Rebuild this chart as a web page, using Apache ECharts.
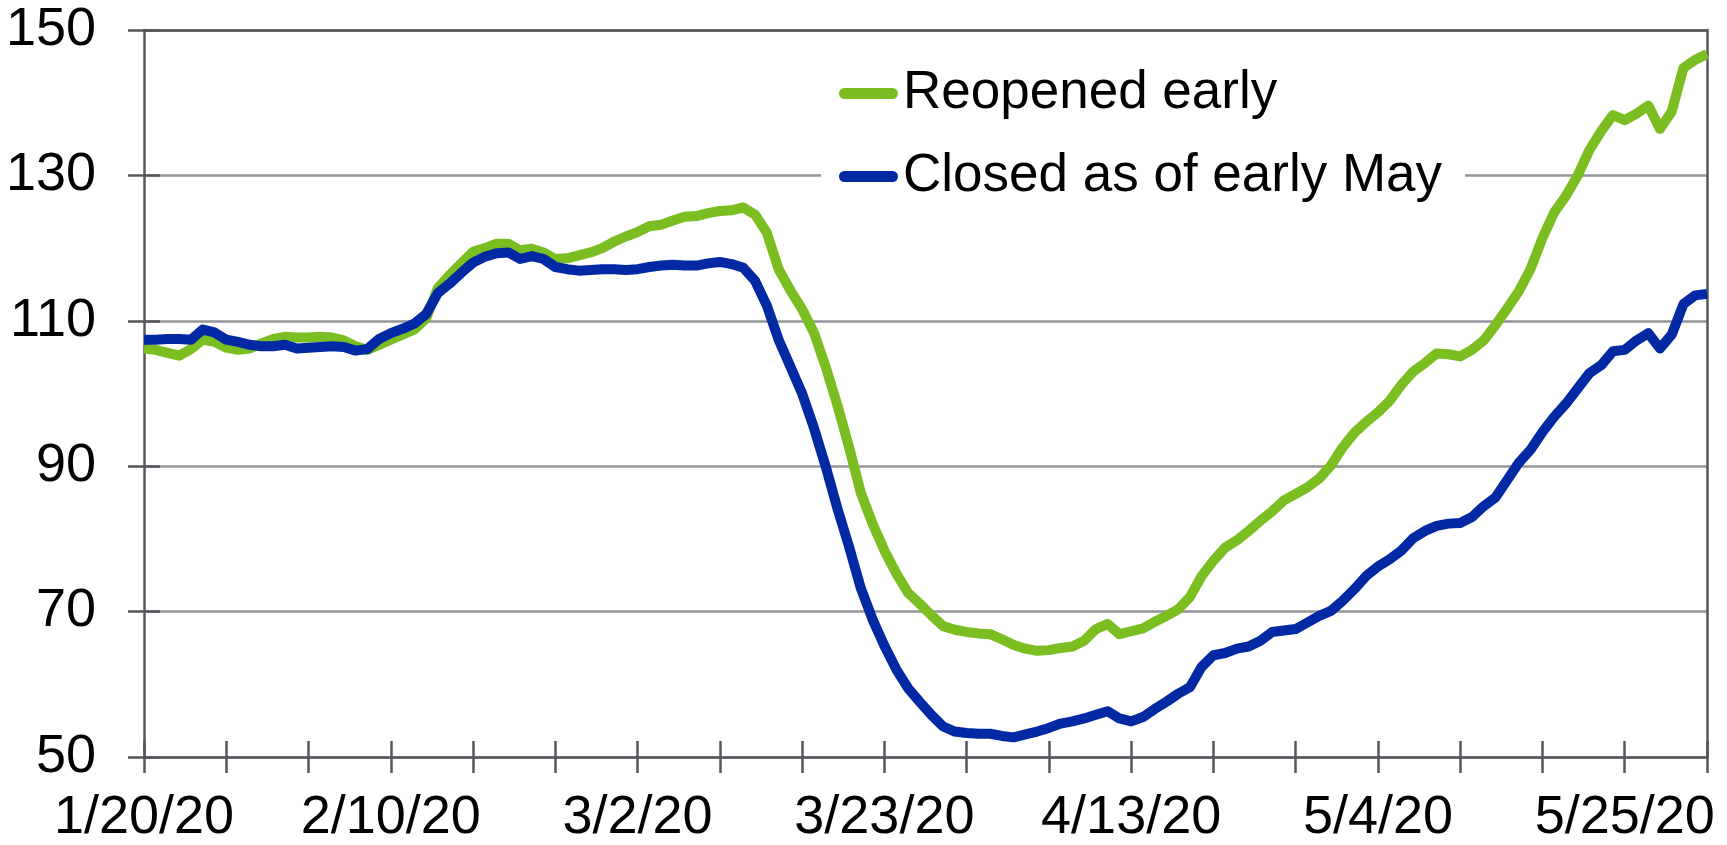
<!DOCTYPE html>
<html>
<head>
<meta charset="utf-8">
<script src="https://cdn.jsdelivr.net/npm/echarts@6/dist/echarts.min.js"></script>
<style>
  html, body { margin: 0; padding: 0; background: #fff; }
  #LineChart { width: 1727px; height: 845px; }
</style>
</head>
<body>
<div id="LineChart"></div>
<script>
// daily values, 1/20/20 .. 6/1/20
const reopenedEarly = [
  106.2, 106.0, 105.6, 105.2, 106.1, 107.4, 107.1, 106.3, 106.0, 106.2,
  106.9, 107.5, 107.8, 107.7, 107.7, 107.8, 107.7, 107.3, 106.5, 106.0,
  106.7, 107.4, 108.1, 108.8, 110.3, 114.5, 116.3, 117.9, 119.5, 120.0,
  120.6, 120.6, 119.7, 119.9, 119.4, 118.5, 118.6, 119.0, 119.4, 120.0,
  120.9, 121.6, 122.2, 123.0, 123.2, 123.8, 124.3, 124.4, 124.8, 125.1,
  125.2, 125.6, 124.6, 122.1, 117.1, 114.2, 111.6, 108.4, 103.7, 98.4,
  92.6, 86.3, 82.1, 78.4, 75.3, 72.6, 71.1, 69.5, 68.0, 67.5,
  67.2, 67.0, 66.9, 66.2, 65.4, 64.9, 64.6, 64.7, 65.0, 65.2,
  66.0, 67.6, 68.3, 66.9, 67.3, 67.7, 68.6, 69.4, 70.3, 72.0,
  74.9, 77.0, 78.8, 79.8, 81.1, 82.5, 83.8, 85.3, 86.2, 87.1,
  88.3, 90.1, 92.6, 94.6, 96.1, 97.4, 99.0, 101.2, 103.0, 104.2,
  105.5, 105.4, 105.1, 106.0, 107.3, 109.4, 111.7, 114.1, 117.2, 121.4,
  124.9, 127.2, 130.0, 133.5, 136.1, 138.3, 137.6, 138.5, 139.6, 136.4,
  138.8, 144.8, 145.9, 146.7
];
const closedEarlyMay = [
  107.4, 107.4, 107.5, 107.5, 107.4, 108.8, 108.4, 107.4, 107.1, 106.7,
  106.5, 106.5, 106.7, 106.2, 106.3, 106.4, 106.5, 106.4, 105.9, 106.1,
  107.5, 108.3, 108.9, 109.6, 110.9, 113.8, 115.1, 116.6, 118.0, 118.8,
  119.3, 119.4, 118.5, 118.9, 118.5, 117.4, 117.1, 116.9, 117.0, 117.1,
  117.1, 117.0, 117.1, 117.4, 117.6, 117.7, 117.6, 117.6, 117.9, 118.1,
  117.8, 117.3, 115.5, 112.1, 107.4, 103.7, 100.0, 95.3, 90.0, 84.2,
  78.9, 73.2, 68.9, 65.3, 62.1, 59.5, 57.6, 55.8, 54.2, 53.5,
  53.3, 53.2, 53.2, 52.9, 52.7, 53.1, 53.5, 54.0, 54.6, 54.9,
  55.3, 55.8, 56.3, 55.3, 54.9, 55.5, 56.6, 57.6, 58.7, 59.6,
  62.4, 64.0, 64.3, 64.9, 65.2, 66.0, 67.2, 67.4, 67.6, 68.5,
  69.4, 70.1, 71.5, 73.1, 74.9, 76.2, 77.2, 78.4, 80.1, 81.1,
  81.8, 82.1, 82.2, 83.0, 84.5, 85.7, 88.1, 90.5, 92.3, 94.7,
  96.8, 98.6, 100.7, 102.8, 103.9, 105.8, 106.0, 107.3, 108.3, 106.2,
  108.1, 112.3, 113.5, 113.7
];
const seriesNames = ["Reopened early", "Closed as of early May"];
const yTicks = [50, 70, 90, 110, 130, 150];

// date labels M/D/YY, one per day
const dates = [];
for (let i = 0; i < reopenedEarly.length; i++) {
  const d = new Date(Date.UTC(2020, 0, 20 + i));
  dates.push((d.getUTCMonth() + 1) + "/" + d.getUTCDate() + "/20");
}

const axisDark = "#54585c";
const gridGray = "#929599";
const font = "Liberation Sans, Arial, sans-serif";

const chart = echarts.init(document.getElementById("LineChart"));
const option = {
  animation: false,
  color: ["#7abe22", "#0029a3"],
  grid: { left: 144, right: 20, top: 30, bottom: 86, containLabel: false },
  legend: {
    orient: "vertical",
    left: 821,
    top: 57,
    padding: [10, 23, 10, 18],
    backgroundColor: "#fff",
    selectedMode: false,
    itemWidth: 59,
    itemHeight: 11,
    itemGap: 30,
    icon: "path://M5.5,0 H53.5 A5.5,5.5 0 0 1 53.5,11 H5.5 A5.5,5.5 0 0 1 5.5,0 Z",
    itemStyle: { borderWidth: 0 },
    textStyle: { fontSize: 53, lineHeight: 52, color: "#000", fontFamily: font },
    data: seriesNames,
  },
  xAxis: [
    {
      type: "category",
      position: "bottom",
      boundaryGap: false,
      data: dates,
      z: 3,
      axisLine: { lineStyle: { color: axisDark, width: 2.5 } },
      axisTick: { inside: false, length: 16, interval: 6, lineStyle: { color: axisDark, width: 2.5 } },
      axisLabel: { interval: 20, margin: 34, fontSize: 54, lineHeight: 54, color: "#000", fontFamily: font },
      splitLine: { show: false },
    },
    {
      type: "category",
      position: "bottom",
      boundaryGap: false,
      data: dates,
      z: 3,
      axisLine: { show: false },
      axisTick: { inside: true, length: 16, interval: 6, lineStyle: { color: axisDark, width: 2.5 } },
      axisLabel: { show: false },
      splitLine: { show: false },
    },
    {
      type: "category",
      position: "top",
      boundaryGap: false,
      data: dates,
      z: 3,
      axisLine: { lineStyle: { color: axisDark, width: 2.5 } },
      axisTick: { show: false },
      axisLabel: { show: false },
      splitLine: { show: false },
    },
  ],
  yAxis: [
    {
      type: "value",
      position: "left",
      min: yTicks[0],
      max: yTicks[yTicks.length - 1],
      interval: 20,
      z: 3,
      axisLine: { show: true, lineStyle: { color: axisDark, width: 2.5 } },
      axisTick: { show: true, inside: false, length: 16, lineStyle: { color: axisDark, width: 2.5 } },
      axisLabel: { margin: 48, fontSize: 54, color: "#000", fontFamily: font },
      splitLine: { show: true, lineStyle: { color: gridGray, width: 2.5 } },
    },
    {
      type: "value",
      position: "left",
      min: yTicks[0],
      max: yTicks[yTicks.length - 1],
      interval: 20,
      z: 3,
      axisLine: { show: false },
      axisTick: { show: true, inside: true, length: 16, lineStyle: { color: axisDark, width: 2.5 } },
      axisLabel: { show: false },
      splitLine: { show: false },
    },
    {
      type: "value",
      position: "right",
      min: yTicks[0],
      max: yTicks[yTicks.length - 1],
      interval: 20,
      z: 3,
      axisLine: { show: true, lineStyle: { color: axisDark, width: 2.5 } },
      axisTick: { show: false },
      axisLabel: { show: false },
      splitLine: { show: false },
    },
  ],
  series: [
    {
      name: seriesNames[0],
      type: "line",
      data: reopenedEarly,
      symbol: "none",
      lineStyle: { width: 10, join: "round", cap: "butt" },
    },
    {
      name: seriesNames[1],
      type: "line",
      data: closedEarlyMay,
      symbol: "none",
      lineStyle: { width: 10, join: "round", cap: "butt" },
    },
  ],
};
chart.setOption(option, true);
window.onresize = () => {
  chart.resize();
};
</script>
</body>
</html>
